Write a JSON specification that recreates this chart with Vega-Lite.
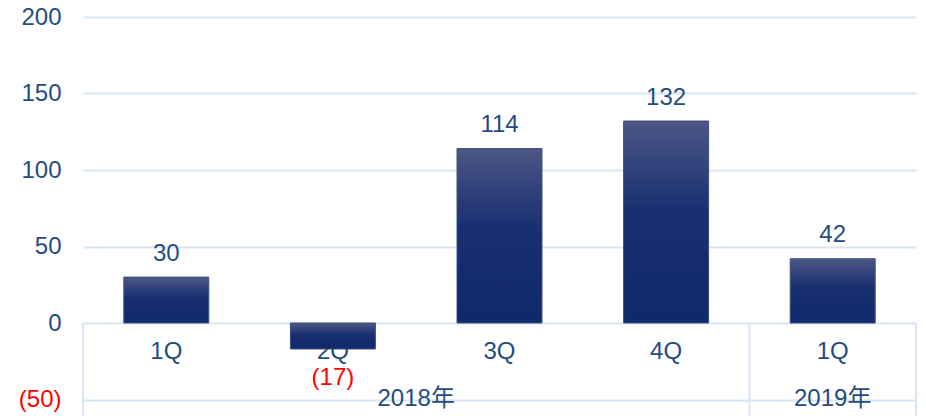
{
  "$schema": "https://vega.github.io/schema/vega-lite/v6.json",
  "width": 833,
  "height": 382.5,
  "autosize": {"type": "none"},
  "padding": {"left": 83, "top": 17, "right": 10, "bottom": 16.5},
  "config": {"view": {"stroke": null}, "font": "Liberation Sans, Noto Sans CJK SC"},
  "data": {
    "values": [
      {"cat": "2018-1Q", "q": "1Q", "v": 30, "label": "30"},
      {"cat": "2018-2Q", "q": "2Q", "v": -17, "label": "(17)"},
      {"cat": "2018-3Q", "q": "3Q", "v": 114, "label": "114"},
      {"cat": "2018-4Q", "q": "4Q", "v": 132, "label": "132"},
      {"cat": "2019-1Q", "q": "1Q", "v": 42, "label": "42"}
    ]
  },
  "layer": [
    {
      "mark": {"type": "text", "baseline": "middle", "fontSize": 24, "color": "#264b7d"},
      "encoding": {
        "x": {
          "field": "cat", "type": "nominal", "sort": null,
          "scale": {"domain": ["2018-1Q", "2018-2Q", "2018-3Q", "2018-4Q", "2019-1Q"], "paddingInner": 0, "paddingOuter": 0},
          "axis": null
        },
        "y": {"datum": -19},
        "text": {"field": "q"}
      }
    },
    {
      "mark": {
        "type": "bar",
        "width": {"band": 0.51},
        "stroke": "#3d4c80",
        "strokeWidth": 1,
        "color": {
          "gradient": "linear",
          "x1": 0, "y1": 0, "x2": 0, "y2": 1,
          "stops": [
            {"offset": 0, "color": "#4d5786"},
            {"offset": 0.45, "color": "#182f70"},
            {"offset": 1, "color": "#10296c"}
          ]
        }
      },
      "encoding": {
        "x": {"field": "cat", "type": "nominal", "axis": null},
        "y": {
          "field": "v", "type": "quantitative",
          "scale": {"domain": [-50, 200], "nice": false},
          "axis": {
            "title": null, "domain": false, "ticks": false, "tickSize": 0,
            "values": [-50, 0, 50, 100, 150, 200],
            "grid": true, "gridColor": "#d8e5f4", "gridWidth": 2,
            "labelPadding": 22, "labelFontSize": 24,
            "labelExpr": "datum.value < 0 ? '(' + abs(datum.value) + ')' : datum.label + ' '",
            "labelColor": {"condition": {"test": "datum.value < 0", "value": "#ff0000"}, "value": "#264b7d"}
          }
        }
      }
    },
    {
      "transform": [{"filter": "datum.v >= 0"}],
      "mark": {"type": "text", "baseline": "alphabetic", "dy": -16.5, "fontSize": 24, "color": "#264b7d"},
      "encoding": {
        "x": {"field": "cat", "type": "nominal", "axis": null},
        "y": {"field": "v", "type": "quantitative"},
        "text": {"field": "label"}
      }
    },
    {
      "transform": [{"filter": "datum.v < 0"}],
      "mark": {"type": "text", "baseline": "top", "dy": 17, "fontSize": 24, "color": "#ff0000"},
      "encoding": {
        "x": {"field": "cat", "type": "nominal", "axis": null},
        "y": {"field": "v", "type": "quantitative"},
        "text": {"field": "label"}
      }
    },
    {
      "data": {"values": [{"cat": "2018-1Q"}, {"cat": "2019-1Q"}]},
      "mark": {"type": "rule", "color": "#d8e5f4", "strokeWidth": 2},
      "encoding": {
        "x": {"field": "cat", "type": "nominal", "bandPosition": 0, "axis": null},
        "y": {"datum": 0},
        "y2": {"datum": -62}
      }
    },
    {
      "data": {"values": [{"cat": "2019-1Q"}]},
      "mark": {"type": "rule", "color": "#d8e5f4", "strokeWidth": 2},
      "encoding": {
        "x": {"field": "cat", "type": "nominal", "bandPosition": 1, "axis": null},
        "y": {"datum": 0},
        "y2": {"datum": -62}
      }
    },
    {
      "data": {"values": [{"cat": "2018-3Q", "year": "2018年"}]},
      "mark": {"type": "text", "baseline": "alphabetic", "dy": 6.5, "fontSize": 24, "color": "#264b7d"},
      "encoding": {
        "x": {"field": "cat", "type": "nominal", "bandPosition": 0, "axis": null},
        "y": {"datum": -50},
        "text": {"field": "year"}
      }
    },
    {
      "data": {"values": [{"cat": "2019-1Q", "year": "2019年"}]},
      "mark": {"type": "text", "baseline": "alphabetic", "dy": 6.5, "fontSize": 24, "color": "#264b7d"},
      "encoding": {
        "x": {"field": "cat", "type": "nominal", "bandPosition": 0.5, "axis": null},
        "y": {"datum": -50},
        "text": {"field": "year"}
      }
    }
  ]
}
